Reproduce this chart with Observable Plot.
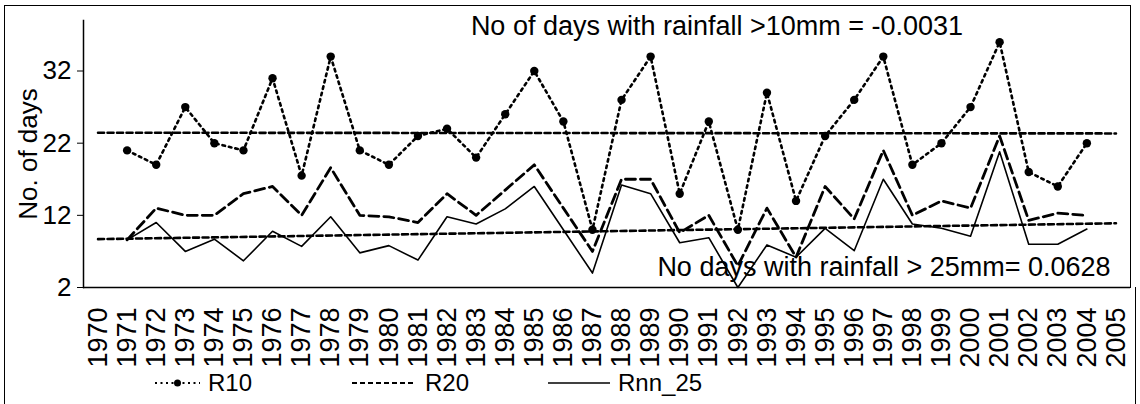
<!DOCTYPE html>
<html><head><meta charset="utf-8">
<script src="https://cdn.jsdelivr.net/npm/d3@7"></script>
<script src="https://cdn.jsdelivr.net/npm/@observablehq/plot@0.6"></script>
<style>
body{margin:0;background:#fff;}
#wrap{position:relative;width:1140px;height:404px;overflow:hidden;background:#fff;font-family:"Liberation Sans",Arial,sans-serif;}
#plot{position:absolute;left:0;top:0;}
.b{position:absolute;background:#000;}
#legend{position:absolute;left:0;top:366px;}
</style></head><body>
<div id="wrap">
  <div id="plot"></div>
  <div class="b" style="left:4px;top:5px;width:1127px;height:1px"></div>
  <div class="b" style="left:4px;top:5px;width:1px;height:399px"></div>
  <div class="b" style="left:1130px;top:5px;width:1px;height:283px"></div>
  <div class="b" style="left:1135px;top:287px;width:1px;height:117px"></div>
  <div id="legend"></div>
</div>
<script>
// ---- data ----
const years = [1971,1972,1973,1974,1975,1976,1977,1978,1979,1980,1981,1982,1983,1984,1985,1986,1987,1988,1989,1990,1991,1992,1993,1994,1995,1996,1997,1998,1999,2000,2001,2002,2003,2004];
const r10 = [21,19,27,22,21,31,17.5,34,21,19,23,24,20,26,32,25,10,28,34,15,25,10,29,14,23,28,34,19,22,27,36,18,16,22];
const r20 = [8.6,13,12,12,15,16,12,18.6,12,11.8,11,15,12,15.5,19,13,7,17,17,9.6,12,5,13,6.2,16,11.5,21,12,14,13,23,11.3,12.3,12];
const rnn25 = [8.6,11,7,8.7,5.7,9.8,7.7,11.8,6.8,7.8,5.8,11.8,10.8,12.9,16,10,4,16.2,15,8.2,8.9,2,7.9,6.2,10.2,7.1,17,10.8,10.2,9.1,20.8,8,8,10.1];
// trend lines (end points)
const trendYears = [1970, 2005];
const trendR10 = [23.45, 23.35];
const trendR25 = [8.7, 10.9];
// axes
const xTickLabels = [1970,1971,1972,1973,1974,1975,1976,1977,1978,1979,1980,1981,1982,1983,1984,1985,1986,1987,1988,1989,1990,1991,1992,1993,1994,1995,1996,1997,1998,1999,2000,2001,2002,2003,2004,2005];
const yTicks = [2,12,22,32];
const xDomain = [1969.5, 2005.5];
const yDomain = [2, 39];
const seriesNames = ["R10","R20","Rnn_25"];
const note10 = "No of days with rainfall >10mm = -0.0031";
const note25 = "No days with rainfall > 25mm= 0.0628";
const yLabel = "No. of days";

const rows = (vals) => years.map((y,i)=>({year:y, v:vals[i]}));
const tr = (vals) => trendYears.map((y,i)=>({year:y, v:vals[i]}));

const chart = Plot.plot({
  width: 1140, height: 360,
  marginTop: 20, marginLeft: 83, marginRight: 10, marginBottom: 73,
  style: {fontFamily: "'Liberation Sans', Arial, sans-serif", color: "#000", background: "transparent", overflow: "visible"},
  x: {type: "linear", domain: xDomain},
  y: {domain: yDomain},
  marks: [
    Plot.axisX({ticks: xTickLabels, tickFormat: d => String(d), tickRotate: -90, tickSize: 0, tickPadding: 20, fontSize: 27, label: null}),
    Plot.axisY({ticks: yTicks, tickSize: 6, tickPadding: 6, fontSize: 26, label: null}),
    Plot.frame({anchor: "left", stroke: "#000", strokeWidth: 1.5}),
    Plot.ruleY([yDomain[0]], {stroke: "#000", strokeWidth: 1.5}),
    Plot.text([yLabel], {frameAnchor: "left", textAnchor: "middle", rotate: -90, dx: -55, dy: 0, fontSize: 26, fill: "#000"}),
    Plot.line(tr(trendR10), {x: "year", y: "v", stroke: "#000", strokeWidth: 2.6, strokeDasharray: "6,3.5"}),
    Plot.line(tr(trendR25), {x: "year", y: "v", stroke: "#000", strokeWidth: 2.6, strokeDasharray: "6,3.5"}),
    Plot.line(rows(rnn25), {x: "year", y: "v", stroke: "#000", strokeWidth: 1.6}),
    Plot.line(rows(r20), {x: "year", y: "v", stroke: "#000", strokeWidth: 2.8, strokeDasharray: "10,5"}),
    Plot.line(rows(r10), {x: "year", y: "v", stroke: "#000", strokeWidth: 2.6, strokeDasharray: "2.6,4"}),
    Plot.dot(rows(r10), {x: "year", y: "v", r: 4.2, fill: "#000", stroke: "none"}),
    Plot.text([note10], {frameAnchor: "top", dx: 110, dy: 6, fontSize: 27, fill: "#000", lineAnchor: "middle"}),
    Plot.text([note25], {frameAnchor: "bottom", dx: 277, dy: -20, fontSize: 27, fill: "#000", lineAnchor: "middle"})
  ]
});
document.getElementById("plot").appendChild(chart);

// legend
const lg = d3.select("#legend").append("svg").attr("width", 1140).attr("height", 34)
  .style("font-family", "'Liberation Sans', Arial, sans-serif");
const items = [
  {name: seriesNames[0], x0: 155, x1: 200, dash: "2,3.5", w: 2.2, dot: true, tx: 208},
  {name: seriesNames[1], x0: 352, x1: 415, dash: "5,3", w: 2.2, dot: false, tx: 425},
  {name: seriesNames[2], x0: 548, x1: 610, dash: null, w: 1.6, dot: false, tx: 618}
];
const g = lg.selectAll("g").data(items).join("g");
g.append("line").attr("x1", d=>d.x0).attr("x2", d=>d.x1).attr("y1", 17).attr("y2", 17)
  .attr("stroke", "#000").attr("stroke-width", d=>d.w).attr("stroke-dasharray", d=>d.dash);
g.filter(d=>d.dot).append("circle").attr("cx", d=>(d.x0+d.x1)/2).attr("cy", 17).attr("r", 3.5).attr("fill", "#000");
g.append("text").attr("x", d=>d.tx).attr("y", 17).attr("dy", "0.35em").attr("font-size", 24).text(d=>d.name);
</script>
</body></html>
